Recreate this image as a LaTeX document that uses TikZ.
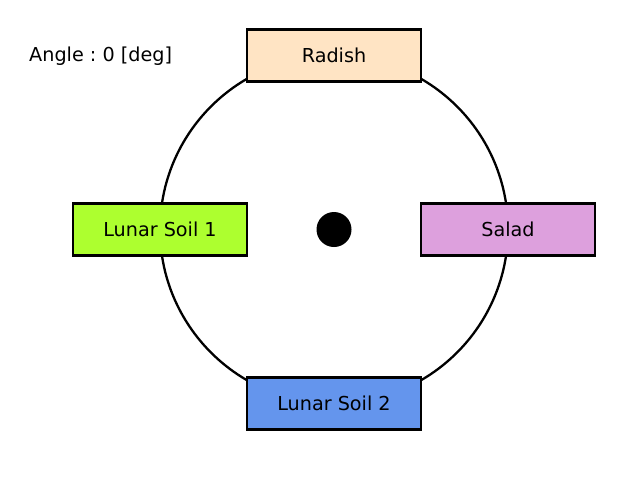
\documentclass[tikz,border=0pt]{standalone}
\usepackage{fontspec}
\setmainfont{DejaVu Sans}
\definecolor{bisque}{HTML}{FFE4C4}
\definecolor{greenyellow}{HTML}{ADFF2F}
\definecolor{plum}{HTML}{DDA0DD}
\definecolor{cornflower}{HTML}{6495ED}
\begin{document}
\frenchspacing
\begin{tikzpicture}[x=1pt,y=-1pt,
  box/.style={draw=black,line width=2.6pt,minimum width=174pt,minimum height=52pt,inner sep=0pt,text height=17pt,text depth=3pt,font=\fontsize{19.2pt}{22pt}\selectfont},
  lbl/.style={inner sep=0pt,font=\fontsize{19.2pt}{22pt}\selectfont}]
\useasboundingbox (0,0) rectangle (640,480);
\draw[line width=2.3pt] (334,229.5) circle (174);
\node[box,fill=bisque] (radish) at (334,55.5) {Radish};
\node[box,fill=greenyellow] (soil1) at (160,229.5) {Lunar Soil 1};
\node[box,fill=plum] (salad) at (508,229.5) {Salad};
\node[box,fill=cornflower] (soil2) at (334,403.5) {Lunar Soil 2};
\fill[black] (334,229.5) circle (17.5);
\node[lbl,anchor=base west] (angle) at (29,61.5) {Angle : 0 [deg]};
\end{tikzpicture}
\end{document}
